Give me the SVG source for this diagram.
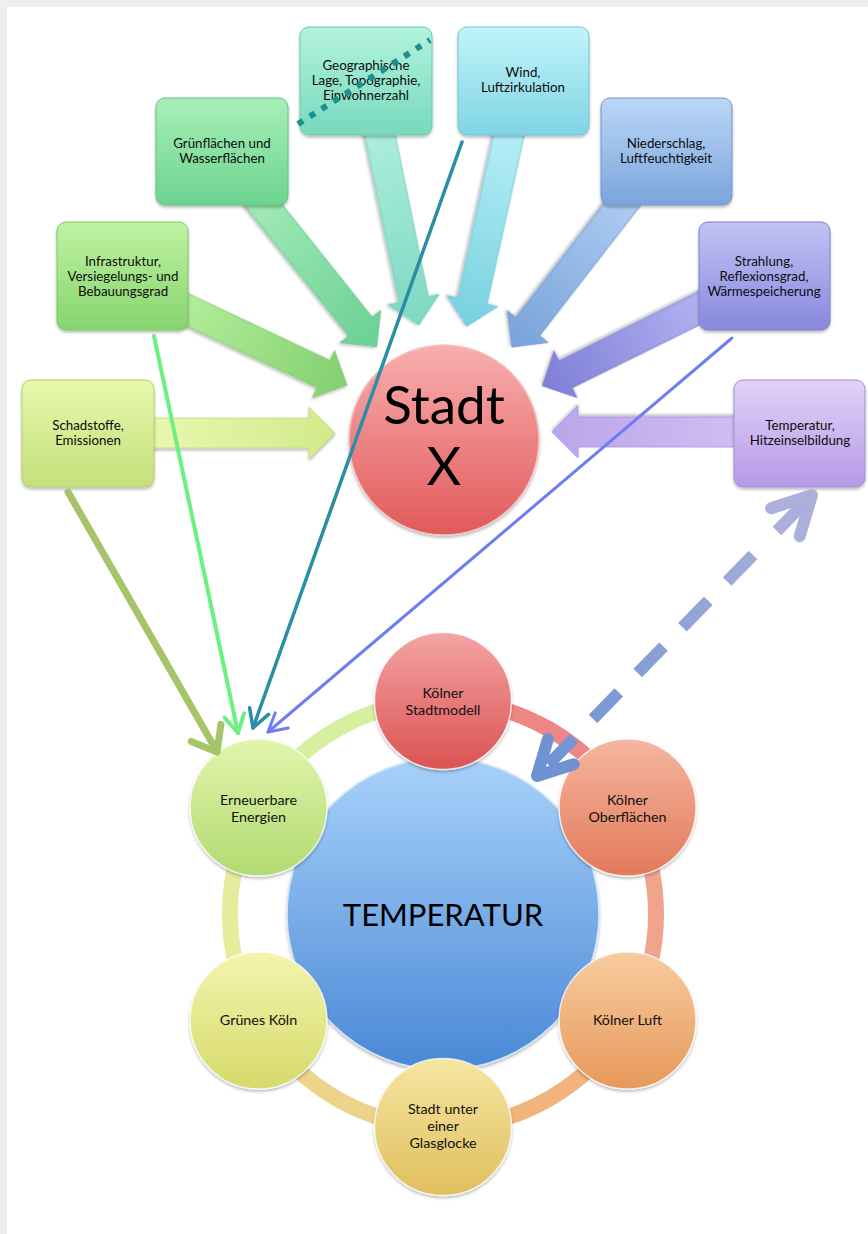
<svg xmlns="http://www.w3.org/2000/svg" width="868" height="1234" viewBox="0 0 868 1234">
<defs>
<style>
.t{font-family:Lato,"Open Sans","Liberation Sans",sans-serif;font-size:13.3px;fill:#0c0c0c;text-anchor:middle}
.ct{font-family:Lato,"Open Sans","Liberation Sans",sans-serif;font-size:14.3px;fill:#111;text-anchor:middle}
.big{font-family:Lato,"Open Sans","Liberation Sans",sans-serif;fill:#000;text-anchor:middle}
.box{filter:url(#sh);stroke-width:1}
.arr{filter:url(#sh);stroke-width:0.8}
.ring{fill:none;stroke-width:16}
.sc{filter:url(#sh);stroke:rgba(255,255,255,0.75);stroke-width:1.5}
.ln{fill:none;stroke-linecap:round;stroke-linejoin:round}
</style>
<filter id="sh" x="-20%" y="-20%" width="140%" height="140%">
<feDropShadow dx="0" dy="2" stdDeviation="1.6" flood-color="#000" flood-opacity="0.28"/>
</filter>
<linearGradient id="g1" x1="0" y1="0" x2="0" y2="1"><stop offset="0" stop-color="#e8f8ae"/><stop offset="1" stop-color="#c4e07a"/></linearGradient>
<linearGradient id="g2" x1="0" y1="0" x2="0" y2="1"><stop offset="0" stop-color="#bff3a2"/><stop offset="1" stop-color="#86d46e"/></linearGradient>
<linearGradient id="g3" x1="0" y1="0" x2="0" y2="1"><stop offset="0" stop-color="#a8efb8"/><stop offset="1" stop-color="#6cd48e"/></linearGradient>
<linearGradient id="g4" x1="0" y1="0" x2="0" y2="1"><stop offset="0" stop-color="#b2f3dd"/><stop offset="1" stop-color="#78d9bd"/></linearGradient>
<linearGradient id="g5" x1="0" y1="0" x2="0" y2="1"><stop offset="0" stop-color="#c2f4fa"/><stop offset="1" stop-color="#80d4e4"/></linearGradient>
<linearGradient id="g6" x1="0" y1="0" x2="0" y2="1"><stop offset="0" stop-color="#bad7f6"/><stop offset="1" stop-color="#7ca4dc"/></linearGradient>
<linearGradient id="g7" x1="0" y1="0" x2="0" y2="1"><stop offset="0" stop-color="#c2c2f6"/><stop offset="1" stop-color="#8888de"/></linearGradient>
<linearGradient id="g8" x1="0" y1="0" x2="0" y2="1"><stop offset="0" stop-color="#e2d2f8"/><stop offset="1" stop-color="#b69ae6"/></linearGradient>
<linearGradient id="a1" x1="0" y1="0" x2="1" y2="0"><stop offset="0" stop-color="#eaf8b2"/><stop offset="1" stop-color="#d2ea8a"/></linearGradient>
<linearGradient id="a2" x1="0" y1="0" x2="1" y2="0"><stop offset="0" stop-color="#b6ee9c"/><stop offset="1" stop-color="#82d070"/></linearGradient>
<linearGradient id="a3" x1="0" y1="0" x2="1" y2="0"><stop offset="0" stop-color="#a2eab6"/><stop offset="1" stop-color="#6ad094"/></linearGradient>
<linearGradient id="a4" x1="0" y1="0" x2="1" y2="0"><stop offset="0" stop-color="#aeefdc"/><stop offset="1" stop-color="#7ed8c2"/></linearGradient>
<linearGradient id="a5" x1="0" y1="0" x2="1" y2="0"><stop offset="0" stop-color="#b8f0f8"/><stop offset="1" stop-color="#78d0e0"/></linearGradient>
<linearGradient id="a6" x1="0" y1="0" x2="1" y2="0"><stop offset="0" stop-color="#aecdf2"/><stop offset="1" stop-color="#78a2da"/></linearGradient>
<linearGradient id="a7" x1="0" y1="0" x2="1" y2="0"><stop offset="0" stop-color="#b4b4f2"/><stop offset="1" stop-color="#7e7ed8"/></linearGradient>
<linearGradient id="a8" x1="0" y1="0" x2="1" y2="0"><stop offset="0" stop-color="#d2bff4"/><stop offset="1" stop-color="#bca4ea"/></linearGradient>
<linearGradient id="cx" x1="0" y1="0" x2="0" y2="1"><stop offset="0" stop-color="#f9aeae"/><stop offset="1" stop-color="#e25a5a"/></linearGradient>
<linearGradient id="cT" x1="0" y1="0" x2="0" y2="1"><stop offset="0" stop-color="#a8d2fa"/><stop offset="1" stop-color="#4a88d6"/></linearGradient>
<linearGradient id="c1" x1="0" y1="0" x2="0" y2="1"><stop offset="0" stop-color="#f4a4a4"/><stop offset="1" stop-color="#dc5252"/></linearGradient>
<linearGradient id="c2" x1="0" y1="0" x2="0" y2="1"><stop offset="0" stop-color="#f6b6a0"/><stop offset="1" stop-color="#e27a5a"/></linearGradient>
<linearGradient id="c3" x1="0" y1="0" x2="0" y2="1"><stop offset="0" stop-color="#f8cca0"/><stop offset="1" stop-color="#e6985a"/></linearGradient>
<linearGradient id="c4" x1="0" y1="0" x2="0" y2="1"><stop offset="0" stop-color="#f6e6a2"/><stop offset="1" stop-color="#dfbf5e"/></linearGradient>
<linearGradient id="c5" x1="0" y1="0" x2="0" y2="1"><stop offset="0" stop-color="#f4f4ae"/><stop offset="1" stop-color="#d6da6a"/></linearGradient>
<linearGradient id="c6" x1="0" y1="0" x2="0" y2="1"><stop offset="0" stop-color="#e2f5ac"/><stop offset="1" stop-color="#b2da72"/></linearGradient>
<linearGradient id="dg" gradientUnits="userSpaceOnUse" x1="812" y1="495" x2="537" y2="776"><stop offset="0" stop-color="#b0b2dc"/><stop offset="1" stop-color="#6c92d2"/></linearGradient>
</defs>

<rect x="0" y="0" width="868" height="1234" fill="#eeeeee"/>
<rect x="7" y="7" width="861" height="1227" fill="#ffffff"/>

<g id="block-arrows">
<polygon class="arr" fill="url(#a1)" stroke="#c2dc80" points="0,-15 169,-15 169,-26 195,0 169,26 169,15 0,15" transform="translate(140,433)"/>
<polygon class="arr" fill="url(#a2)" stroke="#7cc868" points="0,-15 165,-15 165,-26 191,0 165,26 165,15 0,15" transform="translate(174.4,303.6) rotate(25.25)"/>
<polygon class="arr" fill="url(#a3)" stroke="#66c68a" points="0,-15 168,-15 168,-26 194,0 168,26 168,15 0,15" transform="translate(255.6,195.3) rotate(51.34)"/>
<polygon class="arr" fill="url(#a4)" stroke="#70ccb4" points="0,-15 183,-15 183,-26 209,0 183,26 183,15 0,15" transform="translate(377,120.3) rotate(78.4)"/>
<polygon class="arr" fill="url(#a5)" stroke="#70c4d6" points="0,-15 185,-15 185,-26 211,0 185,26 185,15 0,15" transform="translate(512.2,120.4) rotate(102.4)"/>
<polygon class="arr" fill="url(#a6)" stroke="#7098d0" points="0,-15 169,-15 169,-26 195,0 169,26 169,15 0,15" transform="translate(631.2,193.1) rotate(127.76)"/>
<polygon class="arr" fill="url(#a7)" stroke="#7a7ad0" points="0,-15 165,-15 165,-26 191,0 165,26 165,15 0,15" transform="translate(713.5,301.4) rotate(153.73)"/>
<polygon class="arr" fill="url(#a8)" stroke="#ab94dc" points="0,-15 172,-15 172,-26 198,0 172,26 172,15 0,15" transform="translate(750,432) rotate(180)"/>
</g>

<g id="box-schadstoffe">
<rect class="box" x="22" y="380" width="132" height="107" rx="9" fill="url(#g1)" stroke="#b2ce70"/>
<text class="t" x="88" y="430">Schadstoffe,</text>
<text class="t" x="88" y="445">Emissionen</text>
</g>
<g id="box-infrastruktur">
<rect class="box" x="57" y="222" width="131" height="108" rx="9" fill="url(#g2)" stroke="#7ec466"/>
<text class="t" x="123" y="266">Infrastruktur,</text>
<text class="t" x="123" y="281">Versiegelungs- und</text>
<text class="t" x="123" y="296">Bebauungsgrad</text>
</g>
<g id="box-gruenflaechen">
<rect class="box" x="156" y="98" width="132" height="107" rx="9" fill="url(#g3)" stroke="#62c284"/>
<text class="t" x="222" y="148">Grünflächen und</text>
<text class="t" x="222" y="163">Wasserflächen</text>
</g>
<g id="box-geographie">
<rect class="box" x="300" y="27" width="132" height="108" rx="9" fill="url(#g4)" stroke="#6ec8ae"/>
<text class="t" x="366" y="70">Geographische</text>
<text class="t" x="366" y="85">Lage, Topographie,</text>
<text class="t" x="366" y="100">Einwohnerzahl</text>
</g>
<g id="box-wind">
<rect class="box" x="458" y="27" width="131" height="108" rx="9" fill="url(#g5)" stroke="#74c4d6"/>
<text class="t" x="523" y="77">Wind,</text>
<text class="t" x="523" y="92">Luftzirkulation</text>
</g>
<g id="box-niederschlag">
<rect class="box" x="601" y="98" width="131" height="107" rx="9" fill="url(#g6)" stroke="#7496cc"/>
<text class="t" x="666" y="148">Niederschlag,</text>
<text class="t" x="666" y="163">Luftfeuchtigkeit</text>
</g>
<g id="box-strahlung">
<rect class="box" x="699" y="222" width="131" height="108" rx="9" fill="url(#g7)" stroke="#7e7ecc"/>
<text class="t" x="764" y="266">Strahlung,</text>
<text class="t" x="764" y="281">Reflexionsgrad,</text>
<text class="t" x="764" y="296">Wärmespeicherung</text>
</g>
<g id="box-temperatur">
<rect class="box" x="734" y="380" width="131" height="107" rx="9" fill="url(#g8)" stroke="#a68cd6"/>
<text class="t" x="800" y="430">Temperatur,</text>
<text class="t" x="800" y="445">Hitzeinselbildung</text>
</g>

<g id="stadt-x">
<circle cx="444" cy="440" r="95" fill="url(#cx)" stroke="#f2c4c4" stroke-width="1.5" filter="url(#sh)"/>
<text class="big" x="444" y="424" font-size="53">Stadt</text>
<text class="big" x="444" y="485" font-size="53">X</text>
</g>

<g id="cycle-ring">
<path class="ring" stroke="#ee8686" d="M443,701 A213,213 0 0 1 627.5,807.5"/>
<path class="ring" stroke="#f0a48e" d="M627.5,807.5 A213,213 0 0 1 627.5,1020.5"/>
<path class="ring" stroke="#f0b47c" d="M627.5,1020.5 A213,213 0 0 1 443,1127"/>
<path class="ring" stroke="#ecd48a" d="M443,1127 A213,213 0 0 1 258.5,1020.5"/>
<path class="ring" stroke="#e6ec9c" d="M258.5,1020.5 A213,213 0 0 1 258.5,807.5"/>
<path class="ring" stroke="#d6efa0" d="M258.5,807.5 A213,213 0 0 1 443,701"/>
</g>

<g id="temperatur">
<circle cx="443" cy="914" r="156" fill="url(#cT)" stroke="#d2e6fa" stroke-width="1.5" filter="url(#sh)"/>
<text class="big" x="443" y="926" font-size="31">TEMPERATUR</text>
</g>

<g id="koelner-stadtmodell">
<circle class="sc" cx="443" cy="701" r="68.5" fill="url(#c1)"/>
<text class="ct" x="443" y="698">Kölner</text>
<text class="ct" x="443" y="715">Stadtmodell</text>
</g>
<g id="koelner-oberflaechen">
<circle class="sc" cx="627.5" cy="807.5" r="68.5" fill="url(#c2)"/>
<text class="ct" x="627.5" y="805">Kölner</text>
<text class="ct" x="627.5" y="822">Oberflächen</text>
</g>
<g id="koelner-luft">
<circle class="sc" cx="627.5" cy="1020.5" r="68.5" fill="url(#c3)"/>
<text class="ct" x="627.5" y="1025">Kölner Luft</text>
</g>
<g id="glasglocke">
<circle class="sc" cx="443" cy="1127" r="68.5" fill="url(#c4)"/>
<text class="ct" x="443" y="1114">Stadt unter</text>
<text class="ct" x="443" y="1131">einer</text>
<text class="ct" x="443" y="1148">Glasglocke</text>
</g>
<g id="gruenes-koeln">
<circle class="sc" cx="258.5" cy="1020.5" r="68.5" fill="url(#c5)"/>
<text class="ct" x="258.5" y="1025">Grünes Köln</text>
</g>
<g id="erneuerbare-energien">
<circle class="sc" cx="258.5" cy="807.5" r="68.5" fill="url(#c6)"/>
<text class="ct" x="258.5" y="805">Erneuerbare</text>
<text class="ct" x="258.5" y="822">Energien</text>
</g>

<g id="connectors">
<line x1="298" y1="124" x2="430" y2="40" stroke="#1a9090" stroke-width="6" stroke-dasharray="6 8"/>
<line class="ln" x1="68" y1="492" x2="215" y2="748" stroke="#a6c46a" stroke-width="7" stroke-linecap="butt"/>
<polyline class="ln" points="191.3,741.4 217,752 220.9,724.4" stroke="#a6c46a" stroke-width="7"/>
<line class="ln" x1="154" y1="336" x2="238" y2="733" stroke="#6cf080" stroke-width="4"/>
<polyline class="ln" points="224.5,717.5 238,733 244.1,713.3" stroke="#6cf080" stroke-width="4"/>
<line class="ln" x1="462" y1="142" x2="253" y2="728" stroke="#2a8ea4" stroke-width="3.5"/>
<polyline class="ln" points="249.6,707.7 253,728 268.5,714.4" stroke="#2a8ea4" stroke-width="3.5"/>
<line class="ln" x1="732" y1="338" x2="268" y2="732" stroke="#6e7ef2" stroke-width="3"/>
<polyline class="ln" points="275.3,712.8 268,732 288.2,728" stroke="#6e7ef2" stroke-width="3"/>
<path fill="none" d="M753,555 L545,768" stroke="url(#dg)" stroke-width="12" stroke-dasharray="37 27"/>
<line x1="808" y1="499" x2="777" y2="531" stroke="#acaedc" stroke-width="12"/>
<polyline class="ln" points="771.1,508.2 812,495 799.7,536.2" stroke="#acaedc" stroke-width="12"/>
<polyline class="ln" points="547.9,739.1 537,776 573.7,764.3" stroke="#6e92d2" stroke-width="12"/>
</g>
</svg>
